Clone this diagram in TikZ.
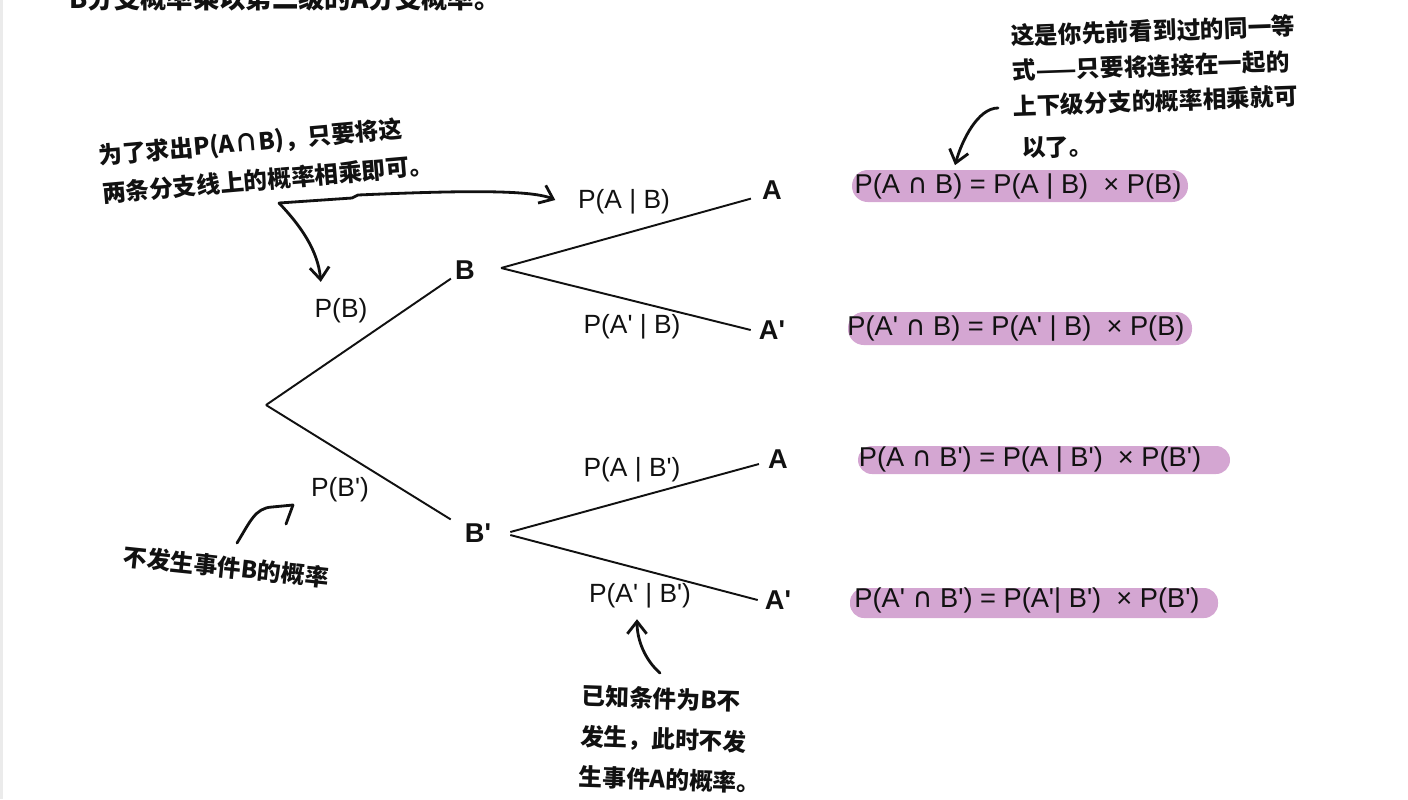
\documentclass[tikz,border=0pt]{standalone}
\usepackage{fontspec}
\setmainfont{Liberation Sans}
\newfontfamily\cjk{Noto Sans CJK SC}
\newfontfamily\symfont{DejaVu Sans}
\usetikzlibrary{arrows.meta, calc}
\definecolor{hilite}{HTML}{D4A6D2}
\definecolor{inkblack}{HTML}{111111}
\definecolor{edgegray}{HTML}{EBEBEB}
\newcommand{\pr}{\textquotesingle}
\newcommand{\capsym}{{\symfont ∩}}

\begin{document}
\begin{tikzpicture}[
  x=0.02cm, y=-0.02cm,
  branch/.style={inkblack, line width=1.1pt},
  event/.style={inkblack, font=\fontsize{15.5}{18}\selectfont\bfseries, inner sep=0.5pt},
  prob/.style={inkblack, font=\fontsize{15}{18}\selectfont, inner sep=2pt},
  eqn/.style={inkblack, font=\fontsize{15.5}{18}\selectfont, inner sep=1pt},
  note/.style={inkblack, font=\cjk\bfseries\fontsize{13.5}{20}\selectfont, align=left, inner sep=0pt},
  pen/.style={inkblack, line width=1.6pt, line cap=round, line join=round},
  hand/.style={pen, -{Straight Barb[length=7pt, width=11pt]}},
]

% ══════════════════════════════════════════════════════
% Page frame
% ══════════════════════════════════════════════════════
\useasboundingbox (0,0) rectangle (1408,799);
\clip (0,0) rectangle (1408,799);
\fill[edgegray] (0,0) rectangle (3,799);

% sentence cut off at the top edge
\node[note, font=\cjk\bfseries\fontsize{15}{20}\selectfont] (topline) at (285,-2)
  {B分支概率乘以第二级的A分支概率。};

% ══════════════════════════════════════════════════════
% Tree: root -> B / B' -> A / A'
% ══════════════════════════════════════════════════════
\coordinate (root) at (266,405);

\node[event] (B)   at (465,270) {B};
\node[event] (Bc)  at (478,533) {B\pr};
\node[event] (A1)  at (772,190) {A};
\node[event] (Ac1) at (772,330) {A\pr};
\node[event] (A2)  at (778,459) {A};
\node[event] (Ac2) at (778,600) {A\pr};

\draw[branch] (root) -- ($(B.south west)+(-3,-2)$);
\draw[branch] (root) -- ($(Bc.north west)+(-13,-3)$);

\draw[branch] ($(B.east)+(25,-2)$) -- ($(A1.south west)+(-10,-2)$);
\draw[branch] ($(B.east)+(25,-2)$) -- ($(Ac1.west)+(-7,0)$);

\draw[branch] ($(Bc.east)+(18,-1)$) -- ($(A2.west)+(-8,5)$);
\draw[branch] ($(Bc.east)+(18,2)$)  -- ($(Ac2.west)+(-6,0)$);

% branch probabilities
\node[prob] (pB)    at (341,311) {P(B)};
\node[prob] (pBc)   at (340,490) {P(B\pr)};
\node[prob] (pAB)   at (624,202) {P(A | B)};
\node[prob] (pAcB)  at (632,327) {P(A\pr{} | B)};
\node[prob] (pABc)  at (632,470) {P(A | B\pr)};
\node[prob] (pAcBc) at (640,596) {P(A\pr{} | B\pr)};

% ══════════════════════════════════════════════════════
% Highlighted results
% ══════════════════════════════════════════════════════
\fill[hilite, rounded corners=9pt] (852,170) rectangle (1188,202);
\fill[hilite, rounded corners=9pt] (848,312) rectangle (1192,345);
\fill[hilite, rounded corners=8pt] (858,446) rectangle (1230,474);
\fill[hilite, rounded corners=8pt] (850,588) rectangle (1218,618);

\node[eqn] (eq1) at (1018,187) {P(A \capsym{} B) = P(A | B)\ \ × P(B)};
\node[eqn] (eq2) at (1016,329) {P(A\pr{} \capsym{} B) = P(A\pr{} | B)\ \ × P(B)};
\node[eqn] (eq3) at (1030,460) {P(A \capsym{} B\pr) = P(A | B\pr)\ \ × P(B\pr)};
\node[eqn] (eq4) at (1027,601) {P(A\pr{} \capsym{} B\pr) = P(A\pr{}| B\pr)\ \ × P(B\pr)};

% ══════════════════════════════════════════════════════
% Handwritten notes
% ══════════════════════════════════════════════════════
\node[note, rotate=5] (noteL) at (266,160)
  {为了求出P(A∩B)，只要将这\\[2pt]两条分支线上的概率相乘即可。};

\node[note, rotate=2, anchor=north west] (noteR) at (1010,24)
  {这是你先前看到过的同一等\\式——只要将连接在一起的\\上下级分支的概率相乘就可\\[4pt]\hspace{0.3em}以了。};

\node[note, rotate=-6] (noteBL) at (226,567) {不发生事件B的概率};

\node[note, rotate=-2, anchor=north west] (noteBR) at (582,684)
  {已知条件为B不\\[3pt]发生，此时不发\\[3pt]生事件A的概率。};

% ══════════════════════════════════════════════════════
% Hand-drawn pointers
% ══════════════════════════════════════════════════════
\coordinate (hook) at (279,203);
\draw[hand] (hook) -- (352,198) -- (358,195)
  .. controls (450,191) and (530,189) .. ($(pAB.west)+(-19,-2)$);
\draw[hand] (hook) .. controls (300,225) and (318,250) .. ($(pB.north west)+(10,-13)$);

\coordinate (noteRtail) at (998,108);
\draw[hand] (noteRtail) .. controls (978,108) and (962,140) .. ($(eq1.north)+(-63,-7)$);

\coordinate (noteBLtail) at (237,543);
\draw[pen] (noteBLtail) .. controls (250,522) and (255,508) .. (272,507)
  -- (293,505) -- (286,524);

\coordinate (noteBRtail) at (660,673);
\draw[hand] (noteBRtail) .. controls (645,660) and (637,640) .. ($(pAcBc.south)+(-3,7)$);

\end{tikzpicture}
\end{document}
